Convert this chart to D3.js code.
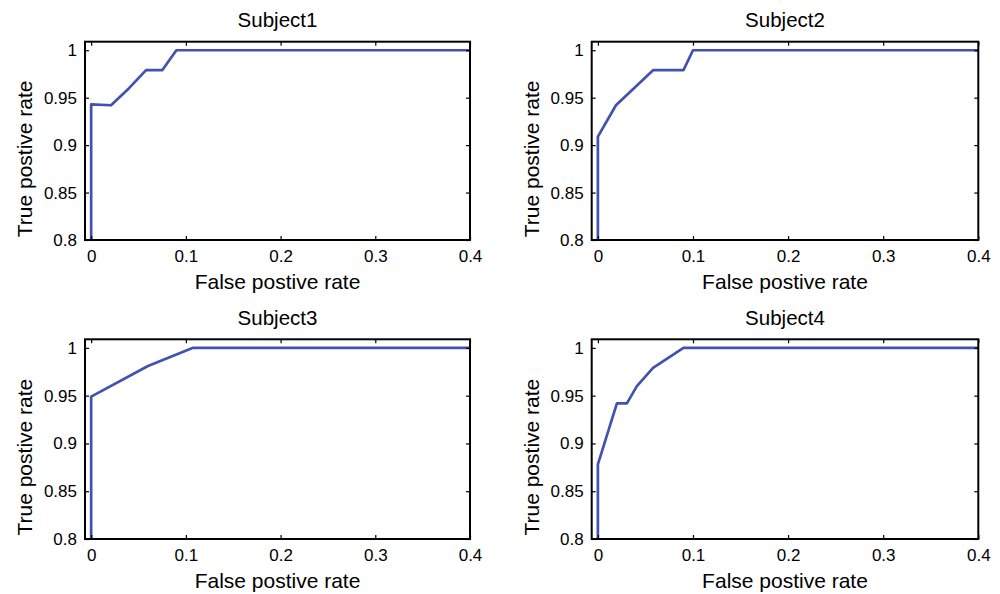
<!DOCTYPE html>
<html>
<head>
<meta charset="utf-8">
<script src="https://cdn.jsdelivr.net/npm/d3@7"></script>
<style>
  body { margin: 0; background: #fff; }
  text { font-family: "Liberation Sans", Arial, sans-serif; fill: #000; }
</style>
</head>
<body>
<div id="graph"></div>
<script>
//ROC curves, one per subject
let titles = ["Subject1", "Subject2", "Subject3", "Subject4"];

let fpr1 = [0, 0, 0.021, 0.04, 0.058, 0.075, 0.09, 0.4];
let tpr1 = [0, 0.943, 0.942, 0.96, 0.979, 0.979, 1, 1];

let fpr2 = [0, 0, 0.019, 0.058, 0.09, 0.1, 0.4];
let tpr2 = [0, 0.909, 0.942, 0.979, 0.979, 1, 1];

let fpr3 = [0, 0, 0.06, 0.107, 0.4];
let tpr3 = [0, 0.949, 0.981, 1, 1];

let fpr4 = [0, 0, 0.02, 0.0305, 0.041, 0.058, 0.09, 0.4];
let tpr4 = [0, 0.878, 0.942, 0.942, 0.96, 0.979, 1, 1];

let xTicks = [0, 0.1, 0.2, 0.3, 0.4];
let xTickLabels = ["0", "0.1", "0.2", "0.3", "0.4"];
let yTicks = [0.8, 0.85, 0.9, 0.95, 1];
let yTickLabels = ["0.8", "0.85", "0.9", "0.95", "1"];

let xLabel = "False postive rate";
let yLabel = "True postive rate";

let allFpr = [fpr1, fpr2, fpr3, fpr4];
let allTpr = [tpr1, tpr2, tpr3, tpr4];

let w = 1000;
let h = 594;
let lineColor = "#4352af";

//pixel boxes of the four axes
let boxes = [
  {left: 85, right: 470, top: 41.7, bottom: 240},
  {left: 591.7, right: 978.3, top: 41.7, bottom: 240},
  {left: 85, right: 470, top: 339.3, bottom: 539},
  {left: 591.7, right: 978.3, top: 339.3, bottom: 539}
];

let svg = d3.select("#graph")
              .append("svg")
                .attr("width", w)
                .attr("height", h)
;

function drawPanel(i){
  let b = boxes[i];
  let pw = b.right - b.left;
  let ph = b.bottom - b.top;

  let x = d3.scaleLinear().domain([-0.0065, 0.4]).range([0, pw]);
  let y = d3.scaleLinear().domain([0.8, 1.009]).range([ph, 0]);

  let g = svg.append("g")
               .attr("transform", "translate(" + b.left + "," + b.top + ")")
  ;

  g.append("clipPath")
     .attr("id", "clip" + i)
   .append("rect")
     .attr("width", pw)
     .attr("height", ph)
  ;

  //curve
  let pts = allFpr[i].map((f, k) => [f, allTpr[i][k]]);
  let line = d3.line()
                 .x(d => x(d[0]))
                 .y(d => y(d[1]))
  ;
  g.append("path")
     .datum(pts)
     .attr("clip-path", "url(#clip" + i + ")")
     .attr("d", line)
     .attr("fill", "none")
     .attr("stroke", lineColor)
     .attr("stroke-width", 2.7)
     .attr("stroke-linejoin", "round")
  ;

  //axes, ticks pointing inwards on all four sides
  let bottomAxis = d3.axisBottom(x)
                       .tickValues(xTicks)
                       .tickFormat((d, k) => xTickLabels[k])
                       .tickSize(-4)
                       .tickSizeOuter(0)
                       .tickPadding(10)
  ;
  let leftAxis = d3.axisLeft(y)
                     .tickValues(yTicks)
                     .tickFormat((d, k) => yTickLabels[k])
                     .tickSize(-4)
                     .tickSizeOuter(0)
                     .tickPadding(8)
  ;
  let topAxis = d3.axisTop(x).tickValues(xTicks).tickFormat("").tickSize(-4).tickSizeOuter(0);
  let rightAxis = d3.axisRight(y).tickValues(yTicks).tickFormat("").tickSize(-4).tickSizeOuter(0);

  let gb = g.append("g").attr("transform", "translate(0," + ph + ")").call(bottomAxis);
  let gl = g.append("g").call(leftAxis);
  let gt = g.append("g").call(topAxis);
  let gr = g.append("g").attr("transform", "translate(" + pw + ",0)").call(rightAxis);

  [gb, gl, gt, gr].forEach(a => {
    a.select(".domain").remove();
    a.selectAll(".tick line").attr("stroke", "#000").attr("stroke-width", 1.2);
    a.selectAll("text").attr("font-size", 17).attr("font-family", null).attr("fill", "#000");
  });

  //box
  g.append("rect")
     .attr("width", pw)
     .attr("height", ph)
     .attr("fill", "none")
     .attr("stroke", "#000")
     .attr("stroke-width", 2)
  ;

  //title
  g.append("text")
     .attr("x", pw / 2)
     .attr("y", -14.5)
     .attr("text-anchor", "middle")
     .attr("font-size", 20.5)
     .text(titles[i])
  ;

  //x label
  g.append("text")
     .attr("x", pw / 2)
     .attr("y", ph + 49)
     .attr("text-anchor", "middle")
     .attr("font-size", 21)
     .text(xLabel)
  ;

  //y label
  g.append("text")
     .attr("transform", "translate(-53," + (ph / 2 + 18) + ") rotate(-90)")
     .attr("text-anchor", "middle")
     .attr("font-size", 21)
     .text(yLabel)
  ;
}

for(let i = 0; i < 4; i++){
  drawPanel(i);
}
</script>
</body>
</html>
